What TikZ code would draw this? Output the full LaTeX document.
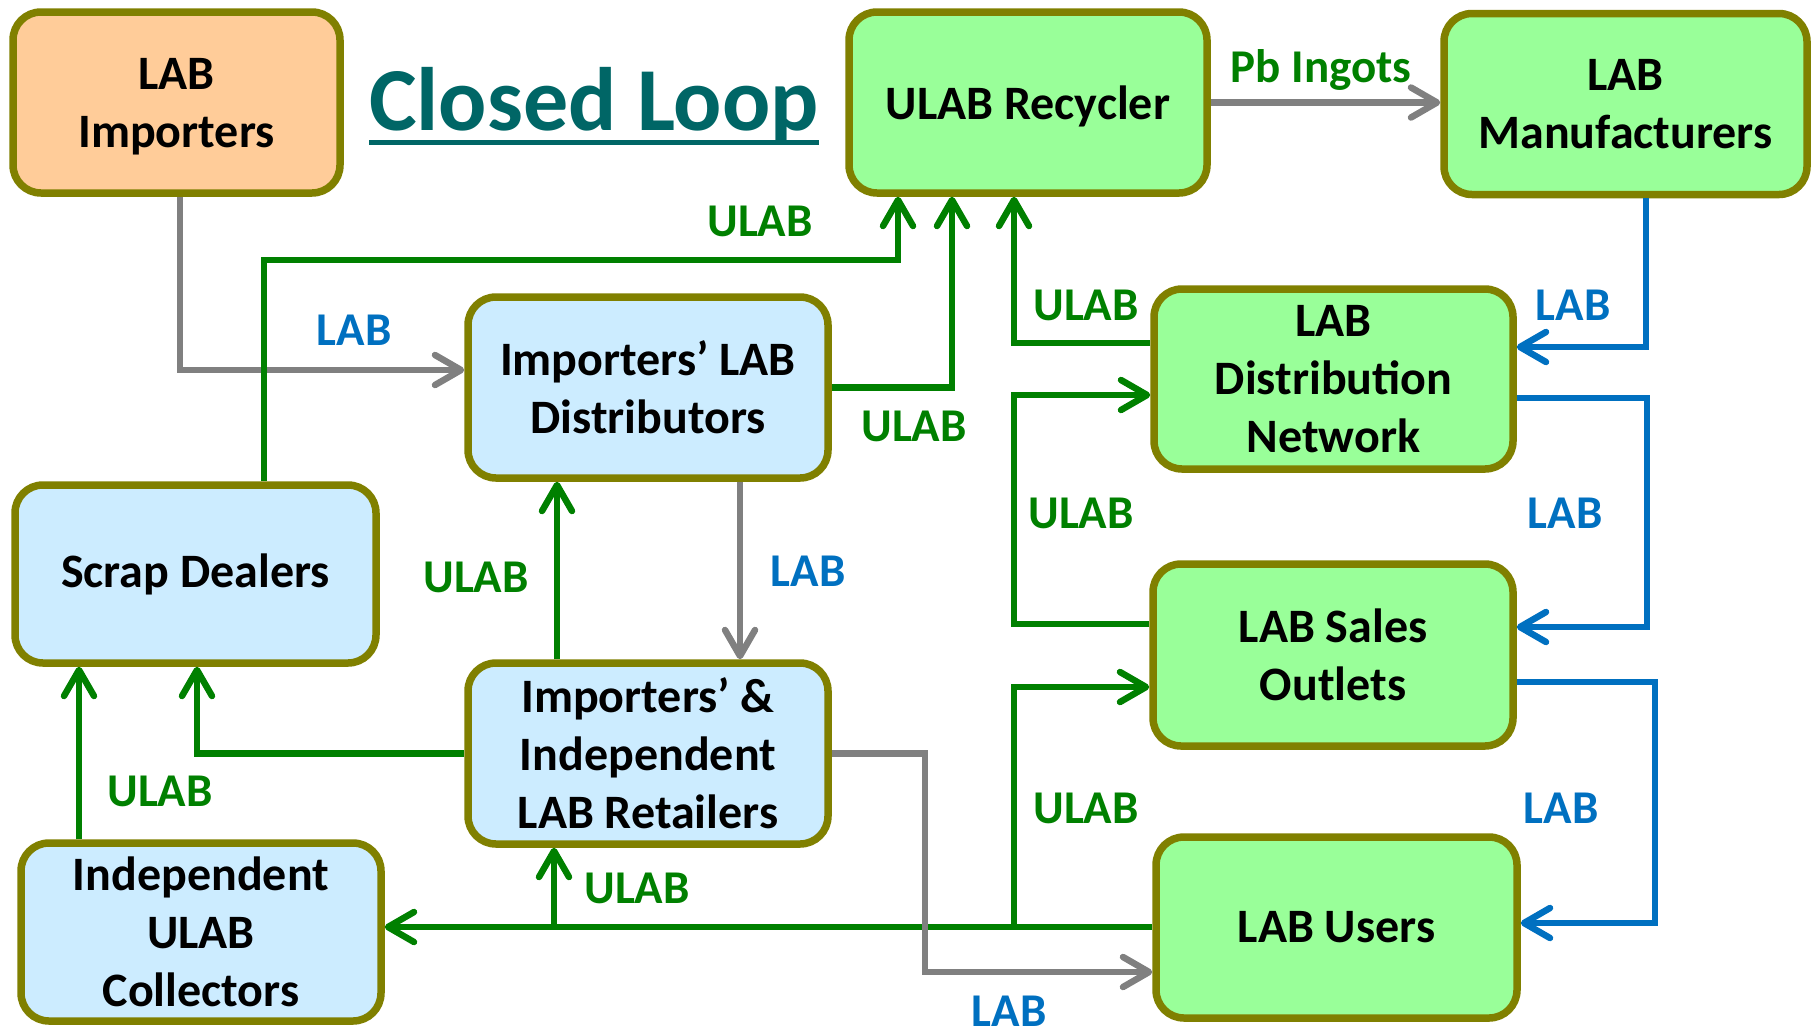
\documentclass[tikz,border=0pt]{standalone}
\usepackage{fontspec}
\setmainfont{Carlito}
\usetikzlibrary{arrows.meta}
\definecolor{olv}{HTML}{808000}
\definecolor{orfill}{HTML}{FFCC99}
\definecolor{grfill}{HTML}{99FF99}
\definecolor{blfill}{HTML}{CCECFF}
\definecolor{grline}{HTML}{008000}
\definecolor{gyline}{HTML}{808080}
\definecolor{blline}{HTML}{0070C0}
\definecolor{ttl}{HTML}{006666}
\begin{document}
\begin{tikzpicture}[x=1pt,y=-1pt,
  box/.style={draw=olv, line width=7.5pt, rounded corners=28pt, inner sep=0pt, outer sep=3.75pt,
    align=center, font=\fontsize{48}{58}\selectfont\bfseries},
  orbox/.style={box, fill=orfill},
  grbox/.style={box, fill=grfill},
  blbox/.style={box, fill=blfill},
  conn/.style={line width=6.5pt, -{Straight Barb[length=26pt,width=30pt,round]}},
  grl/.style={conn, draw=grline},
  gyl/.style={conn, draw=gyline},
  bll/.style={conn, draw=blline},
  lbl/.style={anchor=base, inner sep=0pt, font=\fontsize{47}{54}\selectfont\bfseries},
  glbl/.style={lbl, text=grline},
  blbl/.style={lbl, text=blline},
]
\useasboundingbox (0,0) rectangle (1819,1029);

% boxes
\node[orbox, minimum width=327pt, minimum height=181pt, text depth=0pt] (imp) at (176.5,102.5) {LAB\\Importers};
\node[grbox, minimum width=358pt, minimum height=181pt, text depth=0pt] (rec) at (1028,102.5) {ULAB Recycler};
\node[grbox, minimum width=363pt, minimum height=181pt] (man) at (1625.5,104) {LAB\\Manufacturers};
\node[blbox, minimum width=360pt, minimum height=181pt] (dist) at (648,387.5) {Importers’ LAB\\Distributors};
\node[grbox, minimum width=359pt, minimum height=180pt] (net) at (1333.5,379) {LAB\\Distribution\\Network};
\node[blbox, minimum width=361pt, minimum height=178pt] (scrap) at (195.5,574) {Scrap Dealers};
\node[blbox, minimum width=360pt, minimum height=181pt] (ret) at (648,753.5) {Importers’ \&\\Independent\\LAB Retailers};
\node[blbox, minimum width=360pt, minimum height=178pt] (col) at (201,932) {Independent\\ULAB\\Collectors};
\node[grbox, minimum width=360pt, minimum height=182pt] (sales) at (1333,655) {LAB Sales\\Outlets};
\node[grbox, minimum width=361pt, minimum height=181pt] (users) at (1336.5,927.5) {LAB Users};

% title
\node[anchor=base west, inner sep=0pt, text=ttl, font=\fontsize{90}{90}\selectfont\bfseries] (title) at (369,130) {Closed Loop};
\draw[ttl, line width=5pt] ([yshift=-12.5pt]title.base west) -- ([yshift=-12.5pt]title.base east);

% connectors
\draw[gyl] (imp.south -| 180,0) |- (dist.west |- 0,370);
\draw[gyl] (rec.east) -- (man.west |- rec.east);
\draw[grl] (scrap.north -| 264,0) |- (898,260) -- (rec.south -| 898,0);
\draw[grl] (dist.east) -| (rec.south -| 952,0);
\draw[grl] (net.west |- 0,343) -| (rec.south -| 1014,0);
\draw[bll] (man.south -| 1646,0) |- (net.east |- 0,347);
\draw[bll] (net.east |- 0,398) -| (1647,627) -- (sales.east |- 0,627);
\draw[grl] (sales.west |- 0,624) -| (1014,395) -- (net.west |- 0,395);
\draw[bll] (sales.east |- 0,682) -| (1655,923) -- (users.east |- 0,923);
\draw[grl] (users.west |- 0,927) -- (col.east |- 0,927);
\coordinate (j1) at (1014,927);
\coordinate (j2) at (554,927);
\draw[grl] (j1) |- (sales.west |- 0,687);
\draw[grl] (j2) -- (ret.south -| 554,0);
\draw[grl] (ret.west) -| (scrap.south -| 197,0);
\draw[grl] (col.north -| 79,0) -- (scrap.south -| 79,0);
\draw[grl] (ret.north -| 557,0) -- (dist.south -| 557,0);
\draw[gyl] (dist.south -| 740,0) -- (ret.north -| 740,0);
\draw[gyl] (ret.east) -| (925,972) -- (users.west |- 0,972);

% labels
\node[glbl] (lpb) at (1321,82) {Pb Ingots};
\node[glbl] (l1) at (760,236) {ULAB};
\node[blbl] (l2) at (354,345) {LAB};
\node[glbl] (l3) at (914,441) {ULAB};
\node[glbl] (l4) at (1086,320) {ULAB};
\node[blbl] (l5) at (1573,320) {LAB};
\node[glbl] (l6) at (1081,528) {ULAB};
\node[blbl] (l7) at (1565,528) {LAB};
\node[glbl] (l8) at (476,592) {ULAB};
\node[blbl] (l9) at (808,586) {LAB};
\node[glbl] (l10) at (160,806) {ULAB};
\node[glbl] (l11) at (637,903) {ULAB};
\node[glbl] (l12) at (1086,823) {ULAB};
\node[blbl] (l13) at (1561,823) {LAB};
\node[blbl] (l14) at (1009,1026) {LAB};
\end{tikzpicture}
\end{document}
